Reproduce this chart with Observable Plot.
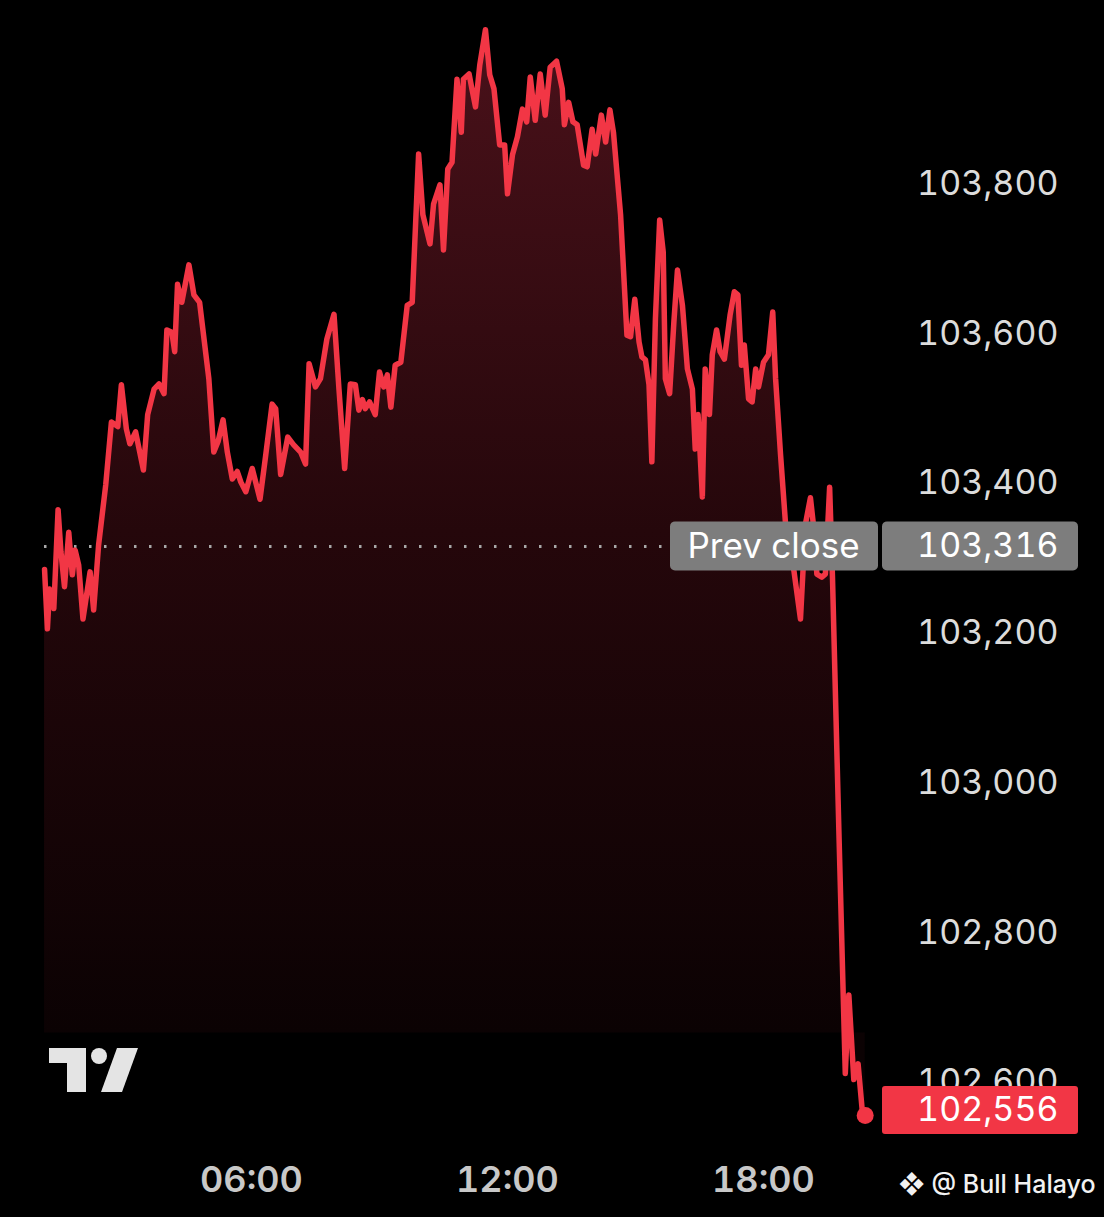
<!DOCTYPE html>
<html>
<head>
<meta charset="utf-8">
<script src="https://cdn.jsdelivr.net/npm/d3@7"></script>
<script src="https://cdn.jsdelivr.net/npm/@observablehq/plot@0.6"></script>
<style>
  html, body { margin: 0; padding: 0; background: #000; }
  #chart { width: 1104px; height: 1217px; overflow: hidden; background: #000; }
  #chart svg { display: block; }
</style>
</head>
<body>
<div id="chart"></div>
<script>
// ---- Data ----
const times = [
  "01:09","01:13","01:16","01:22","01:28","01:32","01:37","01:43","01:48","01:52",
  "01:57","02:03","02:13","02:18","02:25","02:35","02:43","02:52","02:57","03:04",
  "03:09","03:17","03:28","03:34","03:43","03:50","03:57","04:01","04:08","04:12",
  "04:16","04:22","04:32","04:39","04:47","05:00","05:07","05:13","05:20","05:26",
  "05:33","05:40","05:45","05:52","06:01","06:12","06:20","06:29","06:34","06:41",
  "06:51","06:59","07:09","07:16","07:21","07:30","07:37","07:46","07:56","08:03",
  "08:11","08:19","08:26","08:31","08:36","08:40","08:46","08:54","09:00","09:06",
  "09:11","09:16","09:22","09:30","09:39","09:46","09:55","10:01","10:11","10:16",
  "10:25","10:30","10:36","10:42","10:49","10:55","10:58","11:06","11:10","11:15",
  "11:21","11:29","11:35","11:41","11:49","11:56","12:00","12:07","12:14","12:21",
  "12:27","12:32","12:39","12:46","12:53","13:00","13:09","13:17","13:20","13:26",
  "13:32","13:38","13:47","13:52","13:59","14:04","14:12","14:18","14:24","14:29",
  "14:39","14:48","14:53","14:59","15:05","15:09","15:14","15:19","15:23","15:28",
  "15:34","15:39","15:42","15:48","15:54","15:59","16:06","16:13","16:20","16:24",
  "16:28","16:34","16:38","16:44","16:48","16:54","16:59","17:05","17:13","17:19",
  "17:24","17:29","17:33","17:39","17:44","17:49","17:53","18:00","18:07","18:13",
  "18:17","18:24","18:31","18:43","18:52","18:59","19:06","19:11","19:15","19:22",
  "19:27","19:33","19:37","19:46","19:55","20:00","20:07","20:13","20:19","20:23"
];
const prices = [
  103285,103206,103259,103233,103365,103309,103262,103335,103278,103311,
  103291,103219,103282,103231,103318,103398,103482,103476,103532,103473,
  103453,103469,103418,103492,103526,103533,103520,103605,103602,103576,
  103666,103642,103692,103652,103642,103540,103442,103456,103485,103442,
  103406,103416,103402,103389,103420,103379,103438,103506,103500,103412,
  103462,103452,103442,103426,103560,103529,103540,103593,103626,103526,
  103420,103533,103532,103498,103512,103500,103509,103492,103549,103529,
  103545,103502,103558,103562,103638,103642,103840,103759,103720,103773,
  103799,103712,103820,103829,103940,103869,103940,103947,103927,103903,
  103959,104006,103946,103927,103852,103852,103787,103839,103863,103900,
  103883,103943,103885,103947,103892,103956,103964,103927,103879,103909,
  103883,103879,103825,103823,103873,103840,103892,103856,103899,103869,
  103759,103598,103596,103646,103589,103569,103565,103532,103429,103620,
  103752,103709,103540,103520,103616,103685,103638,103553,103526,103446,
  103492,103382,103553,103492,103572,103605,103576,103566,103625,103656,
  103652,103558,103585,103513,103509,103553,103529,103562,103572,103629,
  103540,103438,103346,103282,103219,103346,103381,103338,103279,103275,
  103279,103395,103275,102936,102612,102717,102604,102625,102561,102556
];
const prevClose = 103316;
const lastPrice = 102556;
const prevCloseLabel = "Prev close";
const yTicks = [102600, 102800, 103000, 103200, 103400, 103600, 103800];
const xTicks = [6, 12, 18];
const xTickLabels = ["06:00", "12:00", "18:00"];
const fillBase = 102666;
const watermark = "❖ @ Bull Halayo";

// ---- Build ----
const toHour = t => { const [h, m] = t.split(":").map(Number); return h + m / 60; };
const data = times.map((t, i) => ({hour: toHour(t), price: prices[i]}));
const last = data[data.length - 1];

const red = "#f23645";
const font = "Inter, 'Noto Sans', Roboto, sans-serif";
const fmt = d3.format(",");

function gradientDefs(index, scales) {
  const defs = d3.create("svg:defs");
  const g = defs.append("linearGradient")
    .attr("id", "areaGrad")
    .attr("gradientUnits", "userSpaceOnUse")
    .attr("x1", 0).attr("x2", 0)
    .attr("y1", scales.y(d3.max(prices)))
    .attr("y2", scales.y(fillBase));
  g.append("stop").attr("offset", 0).attr("stop-color", "#4a111a");
  g.append("stop").attr("offset", 0.5).attr("stop-color", "#25070b");
  g.append("stop").attr("offset", 1).attr("stop-color", "#0b0203");
  return defs.node();
}

function labelBoxes(index, scales, values, dims) {
  const right = dims.width - dims.marginRight + 20;
  const g = d3.create("svg:g");
  const yp = scales.y(prevClose);
  g.append("rect").attr("x", right - 408).attr("y", yp - 24.5)
    .attr("width", 208).attr("height", 49).attr("rx", 5).attr("fill", "#7d7d7d");
  g.append("rect").attr("x", right - 196).attr("y", yp - 24.5)
    .attr("width", 196).attr("height", 49).attr("rx", 5).attr("fill", "#7d7d7d");
  const yl = scales.y(lastPrice);
  g.append("rect").attr("x", right - 196).attr("y", yl - 29)
    .attr("width", 196).attr("height", 48).attr("rx", 3).attr("fill", red);
  return g.node();
}

function logo(index, scales, values, dims) {
  const g = d3.create("svg:g")
    .attr("transform", `translate(${dims.marginLeft},${dims.height - dims.marginBottom})`)
    .attr("fill", "#e4e4e4");
  g.append("path").attr("d", "M5,-118H42V-74H23V-103H5Z");
  g.append("circle").attr("cx", 55).attr("cy", -110).attr("r", 8);
  g.append("path").attr("d", "M73,-118H94L78,-74H57Z");
  return g.node();
}

const plot = Plot.plot({
  width: 1104,
  height: 1217,
  marginLeft: 44,
  marginRight: 46,
  marginTop: 0,
  marginBottom: 51,
  style: {background: "#000", fontFamily: font, color: "#dcdcdc", fontVariantNumeric: "tabular-nums"},
  x: {domain: [0, 24], range: [-5, 1019], label: null},
  y: {domain: [102600, 103800], range: [1082, 183.5], label: null},
  marks: [
    gradientDefs,
    Plot.areaY(data, {x: "hour", y1: () => fillBase, y2: "price", fill: "url(#areaGrad)"}),
    Plot.ruleY([prevClose], {stroke: "#a8a8a8", strokeWidth: 3, strokeDasharray: "2.5,12.5"}),
    Plot.line(data, {x: "hour", y: "price", stroke: red, strokeWidth: 5.5, strokeLinejoin: "round", strokeLinecap: "round"}),
    Plot.dot([last], {x: "hour", y: "price", r: 8.5, fill: red, stroke: "none"}),
    Plot.axisY({anchor: "right", ticks: yTicks, tickFormat: fmt, tickSize: 0, tickPadding: 0,
      textAnchor: "end", fontSize: 34, fill: "#dcdcdc", label: null}),
    Plot.axisX({anchor: "bottom", ticks: xTicks, tickFormat: (d) => xTickLabels[xTicks.indexOf(d)],
      tickSize: 0, tickPadding: 0, fontSize: 36, fontWeight: 600, fill: "#c8c8c8", label: null,
      style: {letterSpacing: "0.8px"}}),
    labelBoxes,
    Plot.text([prevClose], {y: d => d, frameAnchor: "right", dx: -371, textAnchor: "start",
      text: () => prevCloseLabel, fill: "#ffffff", fontSize: 35}),
    Plot.text([prevClose], {y: d => d, frameAnchor: "right", textAnchor: "end",
      text: d => fmt(d), fill: "#ffffff", fontSize: 34}),
    Plot.text([lastPrice], {y: d => d, frameAnchor: "right", textAnchor: "end", dy: -5,
      text: d => fmt(d), fill: "#ffffff", fontSize: 34}),
    logo,
    Plot.text([watermark], {frameAnchor: "bottom-right", dx: 37, dy: 26, textAnchor: "end",
      text: d => d, fill: "#f2f2f2", fontSize: 25, fontWeight: 500})
  ]
});

document.getElementById("chart").appendChild(plot);
</script>
</body>
</html>
